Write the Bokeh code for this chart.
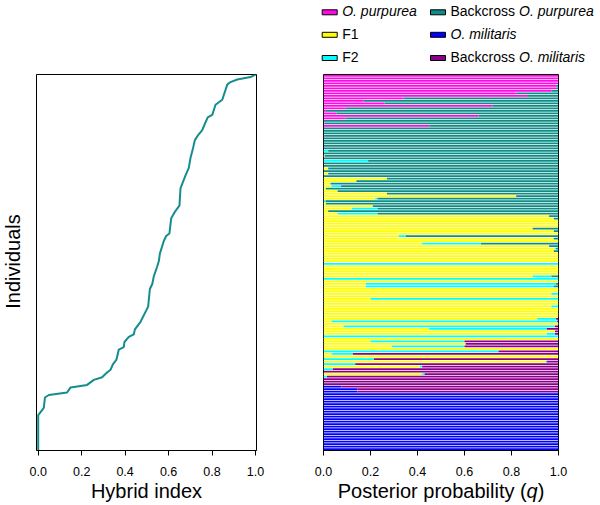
import math
from bokeh.plotting import figure
from bokeh.models import Range1d, ColumnDataSource, FixedTicker, PrintfTickFormatter
from bokeh.layouts import row, column
from bokeh.embed import file_html
from bokeh.resources import INLINE
from bokeh.core.properties import value

FONT = "Liberation Sans"

# ---------------- data ----------------
# Left panel: hybrid index along sorted individuals
hi_rank = [1, 15, 17, 18, 22, 23, 24, 26, 27, 29, 30, 32, 33, 35, 37, 41, 42,
           44, 46, 47, 49, 52, 58, 65, 67, 70, 74, 76, 79, 84, 86, 87, 93, 96,
           98, 105, 110, 113, 117, 121, 124, 126, 128, 130, 133, 134, 138,
           140, 146, 147, 148, 149, 150]
hi_value = [0.0, 0.0, 0.018, 0.026, 0.031, 0.049, 0.133, 0.149, 0.225, 0.256,
            0.294, 0.318, 0.333, 0.343, 0.360, 0.371, 0.394, 0.397, 0.417,
            0.440, 0.445, 0.471, 0.506, 0.514, 0.525, 0.532, 0.548, 0.555,
            0.560, 0.578, 0.589, 0.604, 0.612, 0.632, 0.650, 0.655, 0.678,
            0.693, 0.701, 0.713, 0.721, 0.736, 0.755, 0.765, 0.780, 0.801,
            0.816, 0.847, 0.870, 0.885, 0.916, 0.977, 1.0]

# Right panel: posterior probabilities per individual, listed top to bottom
q_purpurea = [
    1, 1, 1, 1, .99, .99, .97, .82, .87, .34,
    .17, .26, .72, .095, .01, .055, .66, .093, 0, .005,
    .45, 0, 0, 0, .005, 0, 0, 0, 0, 0,
    0, 0, 0, 0, 0, 0, 0, 0, 0, 0,
    0, 0, 0, 0, 0, 0, 0, 0, 0, 0,
    0, 0, 0, 0, 0, 0, 0, 0, 0, 0,
    0, 0, 0, 0, 0, 0, 0, 0, 0, 0,
    0, 0, 0, 0, 0, 0, 0, 0, 0, 0,
    0, 0, 0, 0, 0, 0, 0, 0, 0, 0,
    0, 0, 0, 0, 0, 0, 0, 0, 0, 0,
    0, 0, 0, 0, 0, 0, 0, 0, 0, 0,
    0, 0, 0, 0, 0, 0, 0, 0, 0, 0,
    0, 0, 0, 0, 0, 0, 0, 0, 0, 0,
    0, 0, 0, 0, 0, 0, 0, 0, 0, 0,
    0, 0, 0, 0, 0, 0, 0, 0, 0, 0]
q_f1 = [
    0, 0, 0, 0, 0, 0, 0, 0, 0, 0,
    0, 0, 0, 0, 0, 0, 0, 0, 0, 0,
    0, 0, 0, 0, 0, 0, 0, 0, 0, 0,
    0, 0, .005, 0, 0, 0, 0, .02, 0, .02,
    0, .27, .14, .03, .035, .01, .06, .27, .82, .22,
    0, .01, .21, .12, .02, .06, .96, .98, 1, 1,
    1, .89, .98, 1, .32, .98, 1, .42, .96, .985,
    .98, 1, 1, 1, 1, 0, 1, 1, 1, 1,
    .89, 0, 1, .18, .18, 1, 1, .97, 1, .2,
    1, 1, .97, 1, 1, 1, 1, .91, .035, 1,
    .085, .45, .985, .95, 0, 1, .2, .605, .29, 1,
    0, .035, 1, 0, .945, 0, .41, 0, 0, .42,
    0, 0, 0, 0, 0, 0, 0, 0, 0, 0,
    0, 0, 0, 0, 0, 0, 0, 0, 0, 0,
    0, 0, 0, 0, 0, 0, 0, 0, 0, 0]
q_f2 = [
    0, 0, 0, 0, 0, 0, 0, 0, 0, 0,
    0, 0, 0, 0, 0, 0, 0, 0, 0, 0,
    0, 0, 0, 0, 0, 0, 0, 0, 0, 0,
    .02, 0, 0, 0, .19, 0, 0, 0, 0, 0,
    0, 0, 0, 0, .04, 0, 0, 0, 0, .01,
    .01, 0, 0, .11, 0, .17, 0, 0, 0, 0,
    0, 0, 0, 0, .03, 0, 0, .25, 0, .005,
    0, 0, 0, 0, 0, 1, 0, 0, 0, 0,
    .08, 1, 0, .81, .80, 0, 0, .03, 0, .8,
    0, 0, .03, 0, 0, 0, 0, .08, .96, 0,
    .9, .5, 0, .035, 1, 0, .4, 0, .31, 0,
    .745, .09, 0, .215, .005, .135, .01, .04, 0, .01,
    .015, 0, 0, 0, 0, 0, 0, 0, 0, 0,
    0, 0, 0, 0, 0, 0, 0, 0, 0, 0,
    0, 0, 0, 0, 0, 0, 0, 0, 0, 0]
q_bc_purpurea = [
    0, 0, 0, 0, .01, .01, .03, .18, .13, .66,
    .83, .74, .28, .905, .99, .945, .34, .907, 1, .995,
    .55, 1, 1, 1, .995, 1, 1, 1, 1, 1,
    .98, 1, .995, 1, .81, 1, 1, .98, 1, .98,
    1, .73, .86, .97, .925, .99, .94, .73, .18, .77,
    .99, .99, .79, .77, .98, .77, .04, .02, 0, 0,
    0, .11, .02, 0, .65, .02, 0, .33, .04, .01,
    .02, 0, 0, 0, 0, 0, 0, 0, 0, 0,
    .03, 0, 0, .01, .02, 0, 0, 0, 0, 0,
    0, 0, 0, 0, 0, 0, 0, 0, 0, 0,
    0, 0, 0, 0, 0, 0, 0, 0, 0, 0,
    0, 0, 0, 0, 0, 0, 0, 0, 0, 0,
    0, 0, 0, 0, 0, 0, 0, 0, 0, 0,
    0, 0, 0, 0, 0, 0, 0, 0, 0, 0,
    0, 0, 0, 0, 0, 0, 0, 0, 0, 0]
q_militaris = [
    0, 0, 0, 0, 0, 0, 0, 0, 0, 0,
    0, 0, 0, 0, 0, 0, 0, 0, 0, 0,
    0, 0, 0, 0, 0, 0, 0, 0, 0, 0,
    0, 0, 0, 0, 0, 0, 0, 0, 0, 0,
    0, 0, 0, 0, 0, 0, 0, 0, 0, 0,
    0, 0, 0, 0, 0, 0, 0, 0, 0, 0,
    0, 0, 0, 0, 0, 0, 0, 0, 0, 0,
    0, 0, 0, 0, 0, 0, 0, 0, 0, 0,
    0, 0, 0, 0, 0, 0, 0, 0, 0, 0,
    0, 0, 0, 0, 0, 0, 0, 0, 0, 0,
    0, 0, 0, 0, 0, 0, 0, 0, 0, 0,
    0, 0, 0, 0, 0, 0, 0, 0, 0, 0,
    0, 0, 0, 0, .076, .144, .144, 1, 1, 1,
    1, 1, 1, 1, 1, 1, 1, 1, 1, 1,
    1, 1, 1, 1, 1, 1, 1, 1, 1, 1]
q_bc_militaris = [
    0, 0, 0, 0, 0, 0, 0, 0, 0, 0,
    0, 0, 0, 0, 0, 0, 0, 0, 0, 0,
    0, 0, 0, 0, 0, 0, 0, 0, 0, 0,
    0, 0, 0, 0, 0, 0, 0, 0, 0, 0,
    0, 0, 0, 0, 0, 0, 0, 0, 0, 0,
    0, 0, 0, 0, 0, 0, 0, 0, 0, 0,
    0, 0, 0, 0, 0, 0, 0, 0, 0, 0,
    0, 0, 0, 0, 0, 0, 0, 0, 0, 0,
    0, 0, 0, 0, 0, 0, 0, 0, 0, 0,
    0, 0, 0, 0, 0, 0, 0, .01, .005, 0,
    .015, .05, .015, .015, 0, 0, .4, .395, .4, 0,
    .255, .875, 0, .785, .05, .865, .58, .96, 1, .57,
    .985, 1, 1, 1, .924, .856, .856, 0, 0, 0,
    0, 0, 0, 0, 0, 0, 0, 0, 0, 0,
    0, 0, 0, 0, 0, 0, 0, 0, 0, 0]

ticks = [0.0, 0.2, 0.4, 0.6, 0.8, 1.0]

class_keys = ["purpurea", "f1", "f2", "bc_purpurea", "militaris", "bc_militaris"]
class_colors = ["#FF0AE6", "#FFFF00", "#00FFFF", "#0F8C85", "#0000FF", "#8B008B"]

legend_normal = ["", "F1", "F2", "Backcross ", "", "Backcross "]
legend_italic = ["O. purpurea", "", "", "O. purpurea", "O. militaris", "O. militaris"]
legend_col = [0, 0, 0, 1, 1, 1]
legend_row = [0, 1, 2, 0, 1, 2]

N = len(q_purpurea)
ind_y = [N - i for i in range(N)]

TICK_FS = "12.5px"
TITLE_FS = "20px"
FIG_H = 481          # height of the two panel figures (frame 74..450)
BOTTOM = FIG_H - 450
LSTRIP_W = 26


def style_xaxis(p):
    ax = p.xaxis[0]
    ax.ticker = FixedTicker(ticks=ticks)
    ax.formatter = PrintfTickFormatter(format="%.1f")
    ax.minor_tick_line_color = None
    ax.major_tick_in = 0
    ax.major_tick_out = 5
    ax.major_tick_line_color = "black"
    ax.axis_line_color = "black"
    ax.major_label_text_font = FONT
    ax.major_label_text_font_size = TICK_FS
    ax.major_label_text_color = "black"
    ax.major_label_standoff = 11


def strip(width, height, xr, yr):
    s = figure(width=width, height=height, output_backend="svg",
               toolbar_location=None, x_range=Range1d(*xr), y_range=Range1d(*yr),
               min_border_left=0, min_border_right=0, min_border_top=0,
               min_border_bottom=0, x_axis_location=None, y_axis_location=None)
    s.grid.visible = False
    s.outline_line_color = None
    s.background_fill_color = "white"
    s.border_fill_color = "white"
    s.frame_align = False
    return s


# ---------------- left panel ----------------
p1 = figure(width=290 - LSTRIP_W, height=FIG_H, output_backend="svg",
            toolbar_location=None,
            x_range=Range1d(-0.0078, 1.0046), y_range=Range1d(1, N),
            min_border_left=36 - LSTRIP_W, min_border_right=34, min_border_top=74,
            min_border_bottom=BOTTOM, y_axis_location=None)
p1.frame_align = False
p1.grid.visible = False
p1.outline_line_color = "black"
p1.outline_line_width = 1
p1.background_fill_color = "white"
p1.border_fill_color = "white"
p1.line(hi_value, hi_rank, line_color="#138D8D", line_width=2)
style_xaxis(p1)

# ---------------- right panel ----------------
p2 = figure(width=310, height=FIG_H - 68, output_backend="svg",
            toolbar_location=None,
            x_range=Range1d(0, 1), y_range=Range1d(0.5, N + 0.5),
            min_border_left=33, min_border_right=42, min_border_top=6,
            min_border_bottom=BOTTOM, y_axis_location=None)
p2.frame_align = False
p2.grid.visible = False
p2.outline_line_color = "black"
p2.outline_line_width = 1
p2.background_fill_color = "white"
p2.border_fill_color = "white"

src = ColumnDataSource(dict(y=ind_y, purpurea=q_purpurea, f1=q_f1, f2=q_f2,
                            bc_purpurea=q_bc_purpurea, militaris=q_militaris,
                            bc_militaris=q_bc_militaris))
p2.hbar_stack(class_keys, y="y", height=0.7, fill_color=class_colors,
              line_color=None, source=src)
style_xaxis(p2)

# ---------------- legend strip (page-pixel coordinates) ----------------
leg = strip(310, 68, (290, 600), (68, 0))
box_x0 = [329.2, 437.5]
text_x0 = [341.7, 450.0]
box_y = [11.8, 34.3, 57.5]
text_y = [10.8, 33.8, 56.8]
backcross_w = 68.5

leg.rect(x=[box_x0[c] for c in legend_col], y=[box_y[r] for r in legend_row],
         width=15, height=5, fill_color=class_colors, line_color="black",
         line_width=1)
nx, ny, nt, ix, iy, it = [], [], [], [], [], []
for k in range(6):
    c, r = legend_col[k], legend_row[k]
    x0 = text_x0[c]
    if legend_normal[k]:
        nx.append(x0); ny.append(text_y[r]); nt.append(legend_normal[k])
    if legend_italic[k]:
        off = backcross_w if legend_normal[k] else 0
        ix.append(x0 + off); iy.append(text_y[r]); it.append(legend_italic[k])
leg.text(x=nx, y=ny, text=nt, text_font=value(FONT), text_font_size=value("14px"),
         text_color="black", text_baseline="middle", text_align="left")
leg.text(x=ix, y=iy, text=it, text_font=value(FONT), text_font_size=value("14px"),
         text_font_style=value("italic"), text_color="black",
         text_baseline="middle", text_align="left")

# ---------------- left title strip ----------------
lstrip = strip(LSTRIP_W, FIG_H, (0, LSTRIP_W), (0, FIG_H))
lstrip.text(x=[12.2], y=[FIG_H - 261], text=["Individuals"], text_font=value(FONT),
            text_font_size=value(TITLE_FS), text_color="black",
            text_baseline="middle", text_align="center", angle=math.pi / 2)

# ---------------- bottom title strip ----------------
bstrip = strip(600, 505 - FIG_H, (0, 600), (505, FIG_H))
TY = 490.0
bstrip.text(x=[146.0, 337.2, 537.2], y=[TY, TY, TY],
            text=["Hybrid index", "Posterior probability (", ")"],
            text_font=value(FONT), text_font_size=value(TITLE_FS),
            text_color="black", text_baseline="middle",
            text_align=["center", "left", "left"])
bstrip.text(x=[526.1], y=[TY], text=["q"], text_font=value(FONT),
            text_font_size=value(TITLE_FS), text_font_style=value("italic"),
            text_color="black", text_baseline="middle", text_align="left")

layout = column(row(lstrip, p1, column(leg, p2)), bstrip)
open("out.html", "w").write(file_html(layout, INLINE))
